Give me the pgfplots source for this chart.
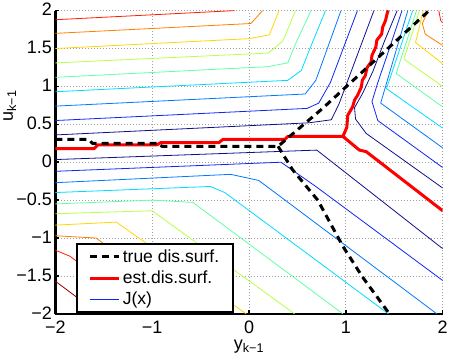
\documentclass[border=0pt]{standalone}
\usepackage{fontspec}
\setmainfont{Liberation Sans}
\usepackage{pgfplots}
\pgfplotsset{compat=1.18}
\definecolor{c1}{rgb}{0.06,0.06,0.55}
\definecolor{c2}{rgb}{0.05,0.15,0.95}
\definecolor{c3}{rgb}{0.0,0.47,1.0}
\definecolor{c4}{rgb}{0.0,0.86,1.0}
\definecolor{c5}{rgb}{0.38,1.0,0.65}
\definecolor{c6}{rgb}{0.72,1.0,0.28}
\definecolor{c7}{rgb}{1.0,0.84,0.0}
\definecolor{c8}{rgb}{1.0,0.5,0.0}
\definecolor{c9}{rgb}{1.0,0.12,0.0}
\definecolor{c10}{rgb}{0.6,0.0,0.0}
\begin{document}
\begin{tikzpicture}
\begin{axis}[
  width=387pt, height=303pt, scale only axis,
  xmin=-2, xmax=2, ymin=-2, ymax=2,
  axis x line*=bottom, axis y line*=left,
  axis line style={-, line width=2.5pt},
  xtick={-2,-1,0,1,2}, xticklabels={−2,−1,0,1,2},
  ytick={-2,-1.5,-1,-0.5,0,0.5,1,1.5,2},
  yticklabels={−2,−1.5,−1,−0.5,0,0.5,1,1.5,2},
  grid=major,
  major grid style={gray!75, line width=0.7pt, dash pattern=on 0.8pt off 2.2pt},
  tick style={black, line width=1.5pt}, major tick length=4pt,
  ticklabel style={font=\fontsize{18}{21}\selectfont},
  xticklabel style={yshift=-4pt},
  yticklabel style={yshift=1pt},
  label style={font=\fontsize{18}{21}\selectfont},
  xlabel={y\textsubscript{k−1}}, ylabel={u\textsubscript{k−1}},
  ylabel style={at={(axis description cs:-0.118,0.686)}, anchor=center},
  xlabel style={yshift=1pt},
  legend cell align=left,
  legend style={at={(rel axis cs:0.052,0.235)}, anchor=north west,
    draw=black, line width=2.5pt, fill=white,
    font=\fontsize{17.5}{20}\selectfont, inner xsep=12pt, inner ysep=4pt,
    row sep=3pt,
    /tikz/every even column/.append style={column sep=10pt}},
  legend image code/.code={\draw[#1] (0pt,0pt) -- (29pt,0pt);},
  every axis plot/.append style={line join=round, forget plot},
  clip=true,
]
% ---------- upper-left contours
\addplot[c9, line width=0.8pt] coordinates {(-2,1.88) (-0.15,2.0)};
\addplot[c8, line width=0.8pt] coordinates {(-2,1.70) (0.02,1.83) (0.14,2.0)};
\addplot[c7, line width=0.8pt] coordinates {(-2,1.50) (0.0,1.63) (0.21,1.68) (0.31,2.0)};
\addplot[c6, line width=0.8pt] coordinates {(-2,1.31) (0.2,1.44) (0.35,1.60) (0.48,2.0)};
\addplot[c5, line width=0.8pt] coordinates {(-2,1.12) (0.19,1.26) (0.40,1.31) (0.48,1.56) (0.64,2.0)};
\addplot[c4, line width=0.8pt] coordinates {(-2,0.93) (0.40,1.08) (0.54,1.21) (0.62,1.47) (0.79,2.0)};
\addplot[c3, line width=0.8pt] coordinates {(-2,0.74) (0.58,0.90) (0.69,1.08) (0.95,2.0)};
\addplot[c2, line width=0.8pt] coordinates {(-2,0.55) (0.60,0.71) (0.72,0.78) (0.84,1.05) (1.12,2.0)};
\addplot[c1, line width=0.8pt] coordinates {(-2,0.36) (0.62,0.52) (0.85,0.56) (0.93,0.77) (1.29,2.0)};
% ---------- lower-left contours
\addplot[c1, line width=0.8pt] coordinates {(-2,0.035) (0.70,0.16) (2,-1.14)};
\addplot[c2, line width=0.8pt] coordinates {(-2,-0.12) (0.33,0.0) (0.69,-0.32) (2,-1.56)};
\addplot[c3, line width=0.8pt] coordinates {(-2,-0.27) (-0.19,-0.16) (0.10,-0.24) (1.94,-2.0)};
\addplot[c4, line width=0.8pt] coordinates {(-2,-0.40) (-0.40,-0.32) (-0.25,-0.40) (1.44,-2.0)};
\addplot[c5, line width=0.8pt] coordinates {(-2,-0.55) (-1.0,-0.50) (-0.58,-0.53) (0.97,-2.0)};
\addplot[c6, line width=0.8pt] coordinates {(-2,-0.68) (-1.0,-0.64) (0.47,-2.0)};
\addplot[c7, line width=0.8pt] coordinates {(-2,-0.83) (-1.37,-0.79) (-0.03,-2.0)};
\addplot[c8, line width=0.8pt] coordinates {(-2,-0.97) (-1.58,-1.0) (-0.53,-2.0)};
\addplot[c9, line width=0.8pt] coordinates {(-2,-1.16) (-1.85,-1.24) (-1.06,-2.0)};
\addplot[c10, line width=0.8pt] coordinates {(-2,-1.57) (-1.55,-2.0)};
% ---------- right contours
\addplot[c1, line width=0.8pt] coordinates {(1.53,2.0) (1.40,1.6) (1.28,1.2) (1.17,0.9) (1.09,0.72) (1.10,0.57) (1.21,0.38) (2.0,-0.34)};
\addplot[c2, line width=0.8pt] coordinates {(1.58,2.0) (1.45,1.5) (1.33,1.05) (1.27,0.80) (1.33,0.55) (2.0,-0.07)};
\addplot[c3, line width=0.8pt] coordinates {(1.64,2.0) (1.36,0.78) (2.0,0.19)};
\addplot[c4, line width=0.8pt] coordinates {(1.69,2.0) (1.42,0.97) (2.0,0.45)};
\addplot[c5, line width=0.8pt] coordinates {(1.73,2.0) (1.52,1.17) (2.0,0.73)};
\addplot[c6, line width=0.8pt] coordinates {(1.76,2.0) (1.60,1.36) (2.0,1.00)};
\addplot[c7, line width=0.8pt] coordinates {(1.80,2.0) (1.72,1.58) (2.0,1.30)};
\addplot[c8, line width=0.8pt] coordinates {(1.85,2.0) (1.79,1.83) (1.82,1.69) (2.0,1.54)};
\addplot[c9, line width=0.8pt] coordinates {(1.96,2.0) (1.98,1.87) (2.0,1.84)};
% ---------- estimated discrimination surface
\addplot[red, line width=3pt] coordinates {(-2,0.18) (-1.60,0.18) (-1.56,0.23) (-0.95,0.23) (-0.91,0.26) (-0.31,0.26) (-0.27,0.30) (0.37,0.30) (0.40,0.34) (0.97,0.34) (1.01,0.46) (1.02,0.62) (1.07,0.73) (1.09,0.82) (1.12,0.88) (1.16,0.99) (1.17,1.08) (1.20,1.14) (1.22,1.25) (1.26,1.32) (1.27,1.41) (1.31,1.52) (1.32,1.61) (1.37,1.69) (1.38,1.78) (1.41,1.87) (1.43,1.98) (1.44,2.0)};
\addplot[red, line width=3pt] coordinates {(0.97,0.34) (1.14,0.16) (1.21,0.14) (2.0,-0.64)};
% ---------- true discrimination surface
\addplot[black, line width=3pt, dash pattern=on 7pt off 5pt] coordinates {(-2,0.30) (-1.65,0.30) (-1.62,0.25) (-0.93,0.25) (-0.90,0.21) (0.30,0.21) (0.76,0.71) (1.86,2.0)};
\addplot[black, line width=3pt, dash pattern=on 7pt off 5pt] coordinates {(0.30,0.21) (0.45,-0.10) (0.71,-0.50) (0.97,-1.11) (1.17,-1.51) (1.45,-2.0)};
% ---------- legend
\addlegendimage{black, line width=3pt, dash pattern=on 7pt off 5pt}
\addlegendentry{true dis.surf.}
\addlegendimage{red, line width=3pt}
\addlegendentry{est.dis.surf.}
\addlegendimage{c2, line width=0.8pt}
\addlegendentry{J(x)}
\end{axis}
\end{tikzpicture}
\end{document}
